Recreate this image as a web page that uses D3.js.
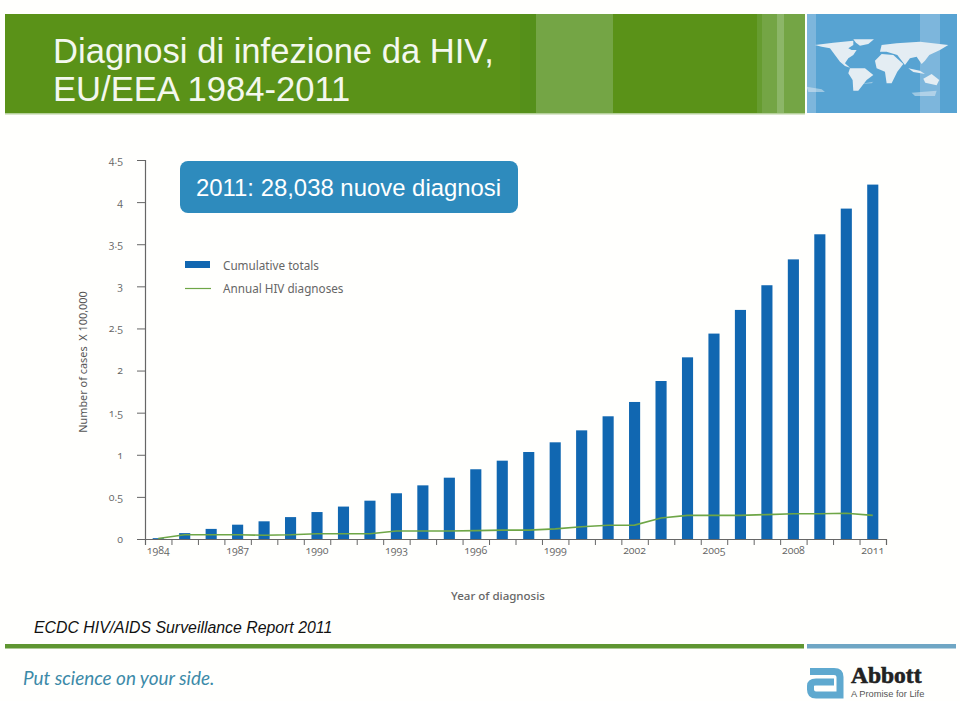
<!DOCTYPE html>
<html><head><meta charset="utf-8">
<script src="https://cdn.jsdelivr.net/npm/d3@7/dist/d3.min.js"></script>
<style>html,body{margin:0;padding:0;background:#fffffd}svg{display:block}</style>
</head><body><svg id="c" width="960" height="701"></svg>
<script>
const years = d3.range(1984, 2012);
const cumulativeTotals = [0.01,0.07,0.12,0.17,0.21,0.26,0.32,0.385,0.455,0.543,0.637,0.728,0.828,0.93,1.033,1.148,1.29,1.457,1.627,1.876,2.157,2.439,2.72,3.013,3.32,3.618,3.923,4.208];
const annualDiagnoses = [0.005,0.05,0.05,0.05,0.045,0.05,0.063,0.063,0.063,0.095,0.095,0.095,0.1,0.105,0.105,0.12,0.146,0.163,0.165,0.25,0.28,0.28,0.28,0.29,0.3,0.3,0.305,0.28];
const yTicks = [0,0.5,1,1.5,2,2.5,3,3.5,4,4.5];
const xLabels = [1984,1987,1990,1993,1996,1999,2002,2005,2008,2011];
const titleLines = ["Diagnosi di infezione da HIV,","EU/EEA 1984-2011"];
const callout = "2011: 28,038 nuove diagnosi";
const legendLabels = ["Cumulative totals","Annual HIV diagnoses"];

const svg = d3.select("#c");
const SANS = "'Liberation Sans',Arial,sans-serif", CH = "'Noto Sans','Open Sans',sans-serif";
const rect=(x,y,w,h,f,p)=>svg.append("rect").attr("x",x).attr("y",y).attr("width",w).attr("height",h).attr("fill",f).attr("fill-opacity",p==null?1:p);

const blur=svg.append("defs").append("filter").attr("id","soft").attr("x","-5%").attr("y","-5%").attr("width","110%").attr("height","110%");
blur.append("feGaussianBlur").attr("stdDeviation",1.4);

// header band
rect(5,14,800,99,"#5a9218");
rect(520,14,16,99,"#55901a");
rect(536,14,77,99,"#74a545");
rect(757,14,5,99,"#669c30");
rect(762,14,43,99,"#74a545");
rect(777,14,7,99,"#8cb668");
rect(5,113,800,1.5,"#b5d09a");
// map panel
rect(807,14,150,99,"#57a3d2");
rect(807,14,9,99,"#7db6dc");
rect(920,14,20,99,"#7db6dc");
const land=[
 [[885,135],[940,128],[1000,122],[1000,135],[985,145],[995,150],[1010,150],[1000,165],[985,175],[975,190],[990,203],[975,198],[960,185],[945,165],[930,145],[905,140]],
 [[1000,118],[1062,118],[1045,132],[1020,137],[1008,128]],
 [[990,205],[1035,205],[1060,225],[1040,240],[1015,272],[1000,272],[998,240],[985,220]],
 [[1065,182],[1085,162],[1120,165],[1150,192],[1132,215],[1115,250],[1100,250],[1095,215],[1070,205]],
 [[1080,155],[1085,135],[1130,130],[1200,125],[1285,135],[1260,150],[1228,165],[1215,182],[1205,192],[1190,170],[1170,175],[1155,195],[1132,165],[1100,155]],
 [[1210,236],[1235,222],[1258,240],[1250,256],[1216,248]],
 [[1165,205],[1200,212],[1215,222],[1180,216]]];
const faint=[[[860,260],[905,268],[915,276],[865,276]],[[1175,278],[1250,272],[1245,288],[1185,288]],[[1020,252],[1060,245],[1055,250]]];
const mapG=svg.append("g").attr("transform","translate(520,0) scale(0.3333)").attr("filter","url(#soft)");
mapG.selectAll("path.l").data(land).join("path").attr("class","l").attr("d",d=>d3.line()(d)+"Z").attr("fill","#e4edf3");
mapG.selectAll("path.f").data(faint).join("path").attr("class","f").attr("d",d=>d3.line()(d)+"Z").attr("fill","#e4edf3").attr("fill-opacity",.5);

svg.selectAll("text.t").data(titleLines).join("text").attr("class","t")
  .attr("x",53).attr("y",(d,i)=>63+i*37.5).attr("fill","#f4f8ee")
  .attr("font-family",SANS).attr("font-size",34.6).text(d=>d);

// chart
const yScale=d3.scaleLinear().domain([0,4.5]).range([539,160]);
const xBand=d3.scaleBand().domain(years).range([145,886]).paddingInner(0.58).paddingOuter(0.29);
const xEdge=d3.scaleLinear().domain([1984,2012]).range([145,886]);

svg.append("g").selectAll("rect").data(years).join("rect")
  .attr("x",d=>xBand(d)).attr("width",xBand.bandwidth())
  .attr("y",(d,i)=>yScale(cumulativeTotals[i]))
  .attr("height",(d,i)=>yScale(0)-yScale(cumulativeTotals[i]))
  .attr("fill","#1167b1");

const yAxis=svg.append("g").attr("transform","translate(145,0)")
  .call(d3.axisLeft(yScale).tickValues(yTicks).tickSize(8).tickPadding(14).tickFormat(d=>String(d)));
const xAxis=svg.append("g").attr("transform","translate(0,539)")
  .call(d3.axisBottom(xEdge).tickValues(d3.range(1984,2013)).tickSize(6).tickFormat(""));
const xLab=svg.append("g").attr("transform","translate(0,539)")
  .call(d3.axisBottom(xBand).tickValues(xLabels).tickSize(0).tickPadding(8));
xLab.select(".domain").remove();
[yAxis,xAxis].forEach(a=>{a.selectAll(".domain").attr("stroke","#666").attr("stroke-width",1.2);a.selectAll(".tick line").attr("stroke","#666").attr("stroke-width",1);});
[yAxis,xLab].forEach(a=>a.selectAll("text").attr("font-family","'Open Sans',sans-serif").attr("font-size",10.5).attr("fill","#666").style("font-variant-numeric","oldstyle-nums"));

svg.append("path").datum(years).attr("fill","none").attr("stroke","#6ea646").attr("stroke-width",1.6)
  .attr("d",d3.line().x(d=>xBand(d)+xBand.bandwidth()/2).y((d,i)=>yScale(annualDiagnoses[i])));

svg.append("text").attr("transform","translate(87,362) rotate(-90)").attr("text-anchor","middle")
  .attr("font-family",CH).attr("font-size",10.9).attr("fill","#555").attr("xml:space","preserve").text("Number of cases  X 100,000");
svg.append("text").attr("x",498).attr("y",600).attr("text-anchor","middle")
  .attr("font-family",CH).attr("font-size",11.5).attr("font-weight",500).attr("fill","#666").text("Year of diagnosis");

// legend
rect(185,261,25,7,"#1167b1");
svg.append("line").attr("x1",185).attr("x2",211).attr("y1",288.5).attr("y2",288.5).attr("stroke","#6ea646").attr("stroke-width",1.2);
svg.selectAll("text.lg").data(legendLabels).join("text").attr("class","lg")
  .attr("x",223).attr("y",(d,i)=>269.5+i*23).attr("font-family",CH).attr("font-size",11.7).attr("fill","#666").text(d=>d);

// callout
svg.append("rect").attr("x",180).attr("y",161).attr("width",338).attr("height",52).attr("rx",8).attr("fill","#2e8bbd");
svg.append("text").attr("x",196).attr("y",196).attr("font-family",SANS).attr("font-size",23.9).attr("fill","#fff").text(callout);

// footer
svg.append("text").attr("x",34).attr("y",632.5).attr("font-family",SANS).attr("font-style","italic").attr("font-size",15.85).attr("fill","#111").text("ECDC HIV/AIDS Surveillance Report 2011");
rect(5,644,799,4.5,"#5f9631");
rect(807,644,149,4.5,"#6fa6c4");
svg.append("text").attr("x",23).attr("y",685).attr("font-family","Lato,sans-serif").attr("font-style","italic").attr("font-size",18.9).attr("fill","#3c8aa8").text("Put science on your side.");
svg.append("path").attr("fill","none").attr("stroke","#5fa9cf").attr("stroke-width",7)
  .attr("d","M810,671.5H834Q840,671.5 840,677V695H816Q810.5,695 810.5,689.5V686Q810.5,682 816,682H834");
svg.append("text").attr("x",851).attr("y",683).attr("font-family","'Liberation Serif',serif").attr("font-weight",700).attr("font-size",23.5).attr("fill","#222").attr("stroke","#222").attr("stroke-width",.6).text("Abbott");
svg.append("text").attr("x",851).attr("y",697).attr("font-family",SANS).attr("font-size",9.3).attr("fill","#555").text("A Promise for Life");
</script></body></html>
